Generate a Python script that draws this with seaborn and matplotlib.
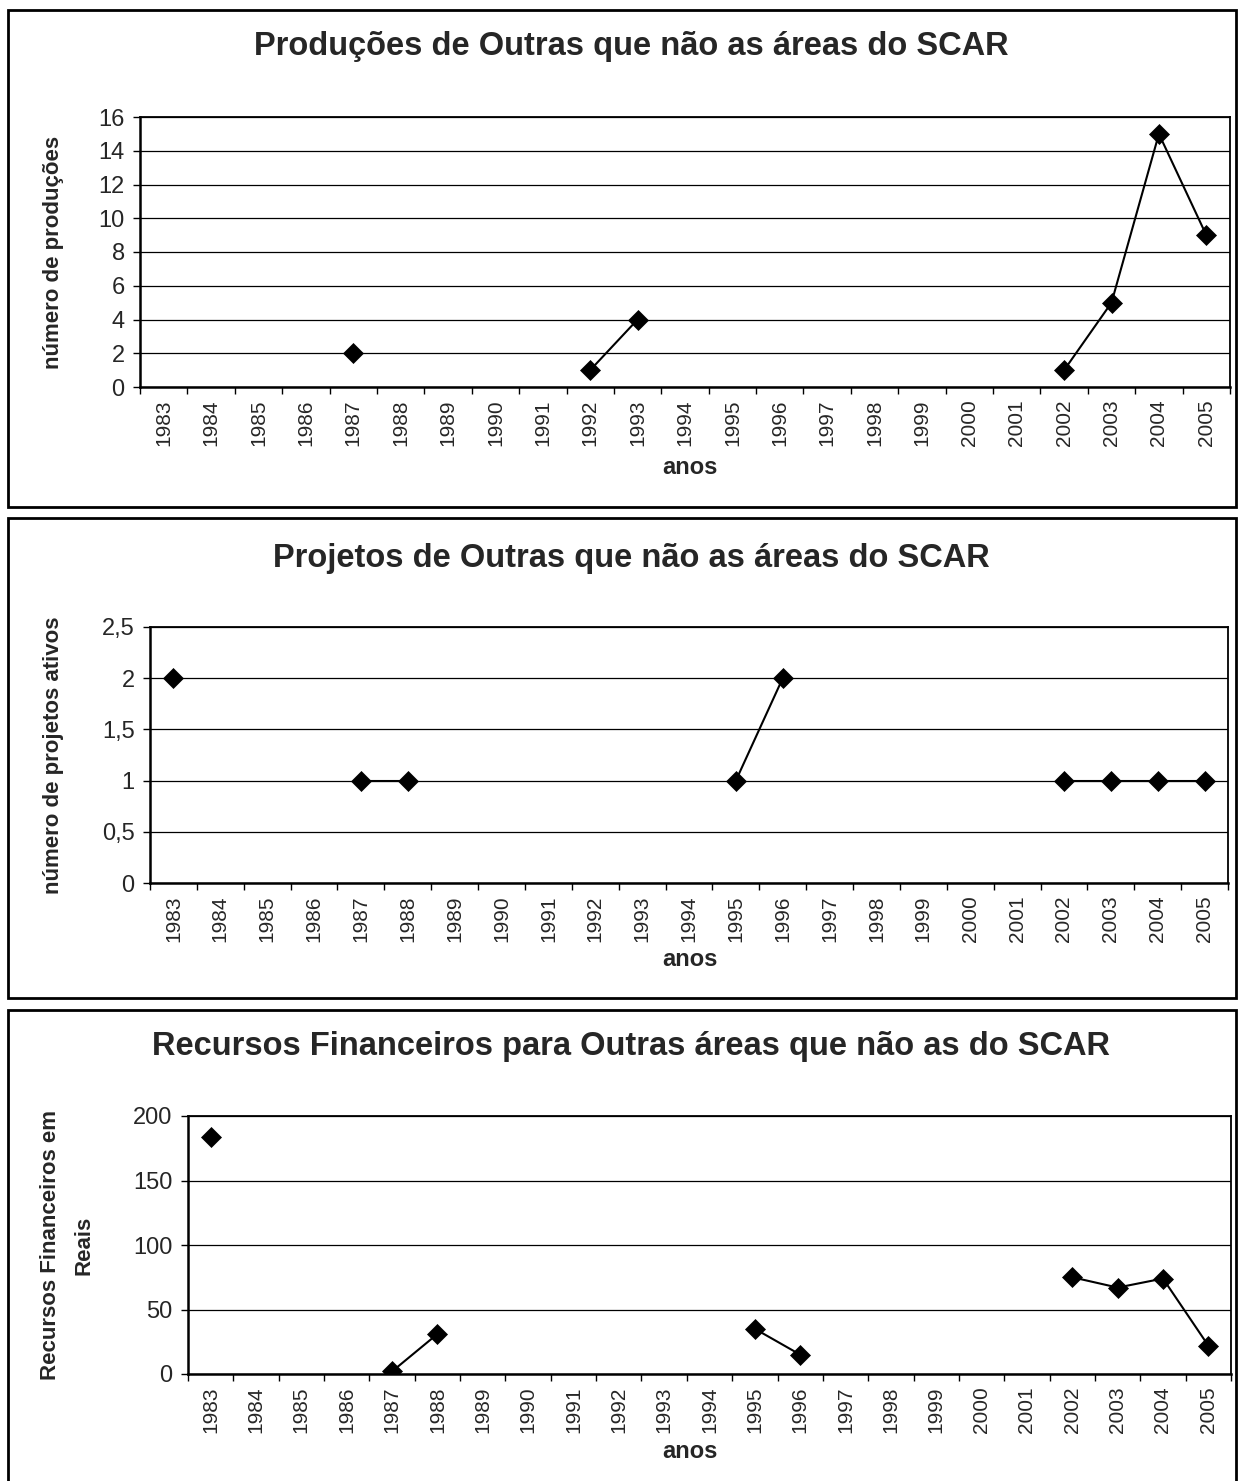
import numpy as np
import pandas as pd
import matplotlib
matplotlib.use("Agg")
import matplotlib.pyplot as plt
import seaborn as sns
from matplotlib.patches import Rectangle

# ---- data -------------------------------------------------------------
anos = [str(a) for a in range(1983, 2006)]
nan = np.nan

producoes = [nan, nan, nan, nan, 2, nan, nan, nan, nan, 1, 4, nan,
             nan, nan, nan, nan, nan, nan, nan, 1, 5, 15, 9]
projetos = [2, nan, nan, nan, 1, 1, nan, nan, nan, nan, nan, nan,
            1, 2, nan, nan, nan, nan, nan, 1, 1, 1, 1]
recursos = [184, nan, nan, nan, 2, 31, nan, nan, nan, nan, nan, nan,
            35, 15, nan, nan, nan, nan, nan, 75, 67, 74, 22]

titulos = ["Produções de Outras que não as áreas do SCAR",
           "Projetos de Outras que não as áreas do SCAR",
           "Recursos Financeiros para Outras áreas que não as do SCAR"]
rotulos_y = ["número de produções",
             "número de projetos ativos",
             "Recursos Financeiros em\nReais"]
ticks_prod = [0, 2, 4, 6, 8, 10, 12, 14, 16]
ticks_proj = [0, 0.5, 1, 1.5, 2, 2.5]
rotulos_proj = ["0", "0,5", "1", "1,5", "2", "2,5"]
ticks_rec = [0, 50, 100, 150, 200]

# ---- style ------------------------------------------------------------
sns.set_theme(style="white")
plt.rcParams["font.family"] = ["Liberation Sans", "DejaVu Sans"]

W, H = 1238, 1481
fig = plt.figure(figsize=(W / 100, H / 100), dpi=100)
fig.patch.set_facecolor("white")


def fx(x):
    return x / W


def fy(y):
    return 1 - y / H


def ax_rect(x0, y0, x1, y1):
    return [fx(x0), fy(y1), (x1 - x0) / W, (y1 - y0) / H]


def trechos(valores):
    """Split a series into runs of consecutive years so gaps stay open."""
    df = pd.DataFrame({"pos": np.arange(len(anos)), "valor": valores})
    df["trecho"] = df["valor"].isna().cumsum()
    return df.dropna()


paineis = [
    dict(dados=producoes, box=(8, 10, 1236, 507), area=(140, 117, 1230, 387),
         titulo_y=47, ticks=ticks_prod, rotulos=[str(t) for t in ticks_prod],
         ylabel_x=54, anos_y=468),
    dict(dados=projetos, box=(8, 518, 1236, 998), area=(150, 627, 1228, 883),
         titulo_y=558, ticks=ticks_proj, rotulos=rotulos_proj,
         ylabel_x=54, anos_y=960),
    dict(dados=recursos, box=(8, 1010, 1236, 1495), area=(188, 1116, 1231, 1374),
         titulo_y=1047, ticks=ticks_rec, rotulos=[str(t) for t in ticks_rec],
         ylabel_x=67, anos_y=1451),
]

for painel, titulo, rotulo_y in zip(paineis, titulos, rotulos_y):
    bx0, by0, bx1, by1 = painel["box"]
    fig.add_artist(Rectangle((fx(bx0), fy(by1)), (bx1 - bx0) / W, (by1 - by0) / H,
                             transform=fig.transFigure, fill=False,
                             edgecolor="black", linewidth=2.0, zorder=0))

    x0, y0, x1, y1 = painel["area"]
    ax = fig.add_axes(ax_rect(x0, y0, x1, y1))
    ax.set_facecolor("white")

    df = trechos(painel["dados"])
    sns.lineplot(data=df, x="pos", y="valor", units="trecho", estimator=None,
                 sort=False, color="black", linewidth=1.5, marker="D",
                 markersize=10, markeredgecolor="black", markeredgewidth=0.5,
                 legend=False, ax=ax, zorder=3)

    n = len(anos)
    ax.set_xlim(-0.5, n - 0.5)
    ax.set_ylim(painel["ticks"][0], painel["ticks"][-1])

    # category boundaries carry the tick marks, centres carry the labels
    ax.set_xticks(np.arange(n + 1) - 0.5)
    ax.set_xticklabels([])
    ax.set_xticks(np.arange(n), minor=True)
    ax.set_xticklabels(anos, minor=True, rotation=90, fontsize=15)
    ax.tick_params(axis="x", which="major", direction="out", length=5,
                   width=1, color="black", bottom=True)
    ax.tick_params(axis="x", which="minor", length=0, pad=9, bottom=True)

    ax.set_yticks(painel["ticks"])
    ax.set_yticklabels(painel["rotulos"], fontsize=17)
    ax.tick_params(axis="y", direction="out", length=5, width=1,
                   color="black", pad=6, left=True)

    ax.yaxis.grid(True, color="black", linewidth=0.9)
    ax.xaxis.grid(False)
    ax.set_axisbelow(True)

    for lado in ["left", "bottom"]:
        ax.spines[lado].set_linewidth(1.8)
    for lado in ["top", "right"]:
        ax.spines[lado].set_linewidth(1.3)
    for sp in ax.spines.values():
        sp.set_color("black")
        sp.set_visible(True)

    ax.set_xlabel("")
    ax.set_ylabel("")

    fig.text(fx(631), fy(painel["titulo_y"]), titulo, ha="center", va="center",
             fontsize=23.5, fontweight="bold")
    fig.text(fx(painel["ylabel_x"]), fy((y0 + y1) / 2), rotulo_y, rotation=90,
             ha="center", va="center", fontsize=16, fontweight="bold",
             multialignment="center", linespacing=1.8)
    fig.text(fx(690), fy(painel["anos_y"]), "anos", ha="center", va="center",
             fontsize=17, fontweight="bold")

fig.savefig("out.png", dpi=100, facecolor="white")
